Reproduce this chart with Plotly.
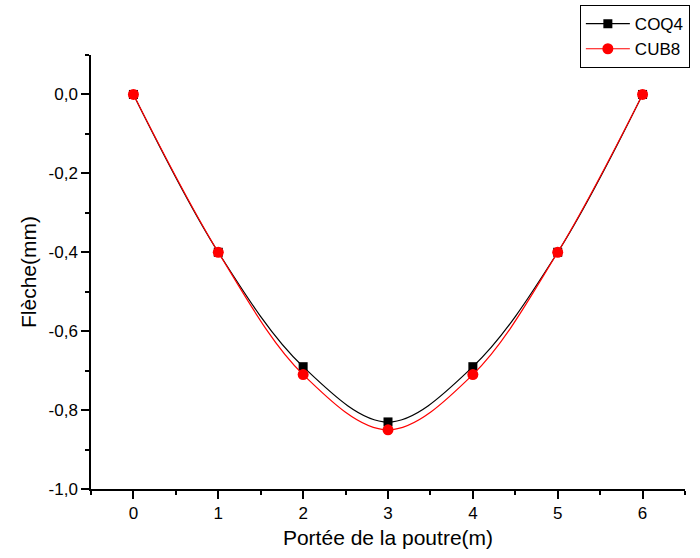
import plotly.graph_objects as go

x_vals = [0, 1, 2, 3, 4, 5, 6]
coq4 = [0.0, -0.40, -0.69, -0.83, -0.69, -0.40, 0.0]
cub8 = [0.0, -0.40, -0.71, -0.85, -0.71, -0.40, 0.0]
y_ticks = [0.0, -0.2, -0.4, -0.6, -0.8, -1.0]
y_tick_labels = ["0,0", "-0,2", "-0,4", "-0,6", "-0,8", "-1,0"]

FONT = "Liberation Sans, Arial, sans-serif"

fig = go.Figure()
fig.add_trace(go.Scatter(
    x=x_vals, y=coq4, name="COQ4", mode="lines+markers",
    line=dict(color="black", width=1.2, shape="spline"),
    marker=dict(symbol="square", size=9, color="black"),
))
fig.add_trace(go.Scatter(
    x=x_vals, y=cub8, name="CUB8", mode="lines+markers",
    line=dict(color="red", width=1.2, shape="spline"),
    marker=dict(symbol="circle", size=11, color="red"),
))

axis_common = dict(
    showgrid=False, zeroline=False, showline=True, linecolor="black", linewidth=1.5,
    ticks="outside", ticklen=8, tickwidth=1.5, tickcolor="black",
    tickfont=dict(family=FONT, size=17, color="black"),
    mirror=False, automargin=False,
)

fig.update_layout(
    width=700, height=558,
    paper_bgcolor="white", plot_bgcolor="white",
    margin=dict(l=91, r=15, t=55, b=69, autoexpand=False),
    font=dict(family=FONT, color="black"),
    xaxis=dict(
        range=[-0.5, 6.5], tickvals=x_vals,
        title=dict(text="Portée de la poutre(m)", font=dict(size=21), standoff=8),
        minor=dict(dtick=0.5, tick0=0.5, ticks="outside", ticklen=4, tickwidth=1.5, tickcolor="black"),
        **axis_common,
    ),
    yaxis=dict(
        range=[-1.0, 0.1], tickvals=y_ticks, ticktext=y_tick_labels,
        title=dict(text="Flèche(mm)", font=dict(size=21), standoff=6),
        minor=dict(dtick=0.1, tick0=0, ticks="outside", ticklen=4, tickwidth=1.5, tickcolor="black"),
        **axis_common,
    ),
    legend=dict(
        x=0.823, y=1.115, xanchor="left", yanchor="top",
        bordercolor="black", borderwidth=1, bgcolor="white",
        font=dict(family=FONT, size=17, color="black"),
        itemwidth=44, tracegroupgap=0,
    ),
    showlegend=True,
)

fig.write_html(
    "out.html",
    config={"displayModeBar": False},
    post_script="document.body.style.margin='0';document.body.style.overflow='hidden';",
)
